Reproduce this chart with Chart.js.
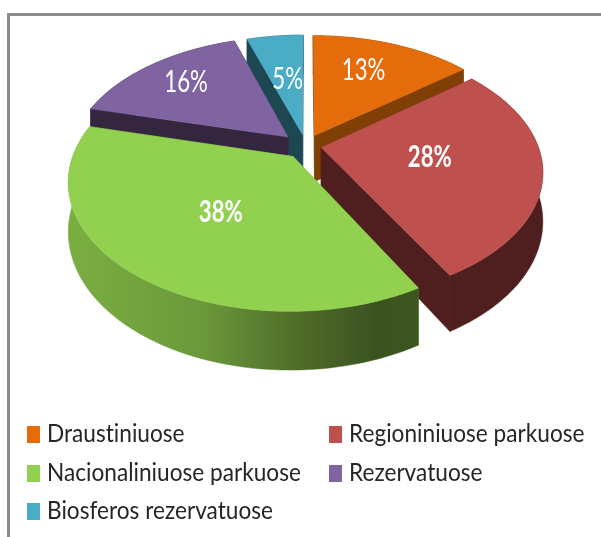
<!DOCTYPE html>
<html><head><meta charset="utf-8">
<style>
html,body{margin:0;padding:0;background:#fff;width:601px;height:537px;overflow:hidden}
#frame{position:absolute;left:7px;top:13px;width:600px;height:540px;border-left:3px solid #8c8c8c;border-top:3px solid #8c8c8c}
canvas{position:absolute;left:0;top:0}
</style>
<script src="https://cdn.jsdelivr.net/npm/chart.js@4"></script>
</head><body>
<div id="frame"></div>
<canvas id="c" width="601" height="537"></canvas>
<script>
const categories = ['Draustiniuose','Regioniniuose parkuose','Nacionaliniuose parkuose','Rezervatuose','Biosferos rezervatuose'];
const values = [13,28,38,16,5];
const topColors = ['#E46C0A','#BE504D','#92D050','#8064A2','#4BACC6'];
const wallColors = ['#7F3F05','#4E1F1E','#6B993A','#35263F','#1E4754'];

// Perspective look of the tilted pie
const view = {cx:306,cy:146.5,R:217,k:122,persp:0.185,depth:47,warp:0.11};
const explode = [0.10,0.07,0.10,0.115,0.10];
const paintOrder = [4,0,3,1,2];
const labelRadius = [0.65,0.5,0.62,0.8,0.6];
const labelShift = [[2,-12],[16,-4],[2,-2],[-5,-4],[0,-2]];
const labelBold = [false,true,true,false,false];
const labelFont = 30, labelSqueeze = 0.74;
const legendFont = 25, legendSqueeze = 0.905;
const legendRows = [434,473,511];
const legendCols = [27,329];

function pt(a,rho,z,mid,ex){
  const w=a+view.warp*Math.max(0,Math.cos(a));
  const x=ex*Math.cos(mid)+rho*Math.cos(w);
  const y=ex*Math.sin(mid)+rho*Math.sin(w);
  const s=1/(1-view.persp*y);
  return [view.cx+view.R*x*s, view.cy+(view.k*y+z*view.depth)*s];
}
function poly(ctx,pts,fill){
  ctx.beginPath();pts.forEach((p,i)=>i?ctx.lineTo(p[0],p[1]):ctx.moveTo(p[0],p[1]));
  ctx.closePath();ctx.fillStyle=fill;ctx.fill();ctx.strokeStyle=fill;ctx.lineWidth=0.5;ctx.stroke();
}
function arcPts(a0,a1,z,mid,ex){
  const out=[],n=64;
  for(let i=0;i<=n;i++){out.push(pt(a0+(a1-a0)*i/n,1,z,mid,ex));}
  return out;
}
const pie3d={
  id:'pie3d',
  beforeDatasetDraw(chart){
    const ctx=chart.ctx,arcs=chart.getDatasetMeta(0).data;
    ctx.save();
    paintOrder.forEach(i=>{
      const e=arcs[i],a0=e.startAngle,a1=e.endAngle,mid=(a0+a1)/2,ex=explode[i];
      const apexT=pt(0,0,0,mid,ex),apexB=pt(0,0,1,mid,ex);
      let wall=wallColors[i];
      poly(ctx,[apexT,pt(a0,1,0,mid,ex),pt(a0,1,1,mid,ex),apexB],wall);
      poly(ctx,[apexT,pt(a1,1,0,mid,ex),pt(a1,1,1,mid,ex),apexB],wall);
      if(i===2){
        const g=ctx.createLinearGradient(70,0,420,0);
        g.addColorStop(0,'#7AAE41');g.addColorStop(0.38,'#6B993A');g.addColorStop(0.66,'#4F6B28');g.addColorStop(0.88,'#3A5220');g.addColorStop(1,'#3D5720');
        wall=g;
      }
      poly(ctx,arcPts(a0,a1,0,mid,ex).concat(arcPts(a0,a1,1,mid,ex).reverse()),wall);
      poly(ctx,[apexT].concat(arcPts(a0,a1,0,mid,ex)),topColors[i]);
    });
    ctx.restore();
    return false;
  },
  afterDraw(chart){
    const ctx=chart.ctx,arcs=chart.getDatasetMeta(0).data;
    const total=values.reduce((a,b)=>a+b,0);
    ctx.save();
    ctx.textBaseline='middle';
    arcs.forEach((e,i)=>{
      const mid=(e.startAngle+e.endAngle)/2,p=pt(mid,labelRadius[i],0,0,0);
      ctx.save();
      ctx.translate(p[0]+labelShift[i][0],p[1]+labelShift[i][1]);ctx.scale(labelSqueeze,1);
      ctx.font=(labelBold[i]?'bold ':'')+labelFont+'px Lato';
      ctx.textAlign='center';ctx.fillStyle='#fff';
      ctx.fillText(Math.round(values[i]/total*100)+'%',0,0);
      ctx.restore();
    });
    categories.forEach((name,i)=>{
      const x=legendCols[i%2],y=legendRows[Math.floor(i/2)];
      ctx.fillStyle=topColors[i];ctx.fillRect(x,y-8,13,17);
      ctx.save();
      ctx.translate(x+20,y);ctx.scale(legendSqueeze,1);
      ctx.font=legendFont+'px Lato';ctx.textAlign='left';ctx.fillStyle='#262626';
      ctx.letterSpacing='0.01px';
      ctx.fillText(name,0,0);
      ctx.restore();
    });
    ctx.restore();
  }
};
new Chart(document.getElementById('c'),{
  type:'pie',
  data:{labels:categories,datasets:[{data:values,backgroundColor:topColors,borderWidth:0}]},
  plugins:[pie3d],
  options:{responsive:false,animation:false,events:[],plugins:{legend:{display:false},tooltip:{enabled:false}}}
});
</script>
</body></html>
